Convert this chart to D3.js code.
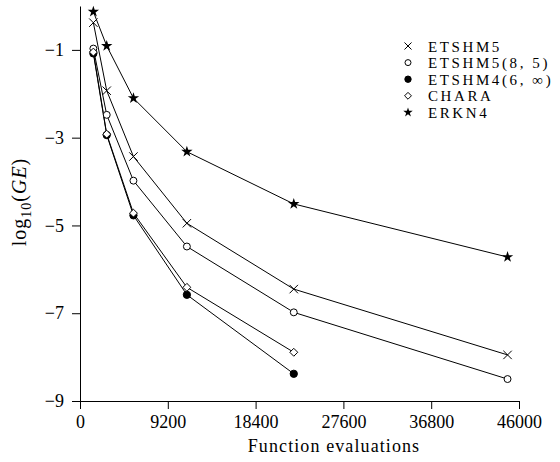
<!DOCTYPE html>
<html>
<head>
<meta charset="utf-8">
<script src="https://cdn.jsdelivr.net/npm/d3@7.9.0/dist/d3.min.js"></script>
<style>
  body { margin: 0; background: #fff; }
  svg text { font-family: "Liberation Serif", "Times New Roman", serif; fill: #000; }
</style>
</head>
<body>
<svg width="560" height="462"></svg>
<script>
// evaluations per run
const evals = [1400, 2800, 5600, 11200, 22400, 44800];

const etshm5 = [-0.38, -1.93, -3.43, -4.95, -6.45, -7.95];
const etshm5_85 = [-0.97, -2.48, -3.98, -5.48, -6.98, -8.50];
const etshm4 = [-1.08, -2.94, -4.77, -6.58, -8.38];
const chara = [-1.05, -2.92, -4.72, -6.41, -7.89];
const erkn4 = [-0.13, -0.91, -2.10, -3.32, -4.51, -5.72];

const xTicks = [0, 9200, 18400, 27600, 36800, 46000];
const yTicks = [-1, -3, -5, -7, -9];

const series = [
  { name: 'ETSHM5', values: etshm5, symbol: d3.symbolTimes, fill: 'none', stroke: '#000', size: 48, legendSize: 34 },
  { name: 'ETSHM5(8, 5)', values: etshm5_85, symbol: d3.symbolCircle, fill: '#fff', stroke: '#000', size: 38, legendSize: 28 },
  { name: 'ETSHM4(6, \u221E)', values: etshm4, symbol: d3.symbolCircle, fill: '#000', stroke: '#000', size: 42, legendSize: 32 },
  { name: 'CHARA', values: chara, symbol: d3.symbolDiamond2, fill: '#fff', stroke: '#000', size: 40, legendSize: 30 },
  { name: 'ERKN4', values: erkn4, symbol: d3.symbolStar, fill: '#000', stroke: 'none', size: 40, legendSize: 28 }
];

const margin = { top: 6, right: 41, bottom: 61, left: 80 };
const width = 560, height = 462;
const svg = d3.select('svg');

const x = d3.scaleLinear().domain([0, 46000]).range([margin.left, width - margin.right]);
const y = d3.scaleLinear().domain([-9, 0]).range([height - margin.bottom, margin.top]);

const fmt = d => String(d).replace('-', '\u2212');

const xAxis = svg.append('g')
  .attr('transform', `translate(0,${height - margin.bottom})`)
  .call(d3.axisBottom(x).tickValues(xTicks).tickSize(8).tickSizeOuter(0).tickPadding(6).tickFormat(d => d));
const yAxis = svg.append('g')
  .attr('transform', `translate(${margin.left},0)`)
  .call(d3.axisLeft(y).tickValues(yTicks).tickSize(8).tickSizeOuter(0).tickPadding(8).tickFormat(fmt));

[xAxis, yAxis].forEach(g => {
  g.selectAll('path, line').attr('stroke', '#000').attr('stroke-width', 1);
  g.selectAll('text').style('font-size', '18px').style('font-family', '"Liberation Serif", serif').attr('fill', '#000');
});

svg.append('text')
  .attr('x', 334).attr('y', 452)
  .attr('text-anchor', 'middle')
  .style('font-size', '18px')
  .style('letter-spacing', '1.1px')
  .text('Function evaluations');

const ylab = svg.append('text')
  .attr('transform', `translate(26,202) rotate(-90)`)
  .attr('text-anchor', 'middle')
  .style('font-size', '20px')
  .style('letter-spacing', '1px');
ylab.append('tspan').text('log');
ylab.append('tspan').attr('dy', 5).style('font-size', '14px').text('10');
ylab.append('tspan').attr('dy', -5).text('(');
ylab.append('tspan').style('font-style', 'italic').text('GE');
ylab.append('tspan').text(')');

const line = d3.line().x((d, i) => x(evals[i])).y(d => y(d));

series.forEach(s => {
  svg.append('path')
    .datum(s.values)
    .attr('d', line)
    .attr('fill', 'none')
    .attr('stroke', '#000')
    .attr('stroke-width', 1);
});

series.forEach(s => {
  const sym = d3.symbol().type(s.symbol).size(s.size);
  svg.append('g').selectAll('path')
    .data(s.values)
    .join('path')
    .attr('transform', (d, i) => `translate(${x(evals[i])},${y(d)})`)
    .attr('d', sym)
    .attr('fill', s.fill)
    .attr('stroke', s.stroke)
    .attr('stroke-width', 1);
});

// legend
const legend = svg.append('g').attr('transform', 'translate(408,46)');
series.forEach((s, i) => {
  const row = legend.append('g').attr('transform', `translate(0,${i * 16.6})`);
  row.append('path')
    .attr('d', d3.symbol().type(s.symbol).size(s.legendSize))
    .attr('fill', s.fill)
    .attr('stroke', s.stroke)
    .attr('stroke-width', 1);
  row.append('text')
    .attr('x', 20).attr('y', 5.5)
    .style('font-size', '15px')
    .style('letter-spacing', '2.6px')
    .text(s.name);
});
</script>
</body>
</html>
